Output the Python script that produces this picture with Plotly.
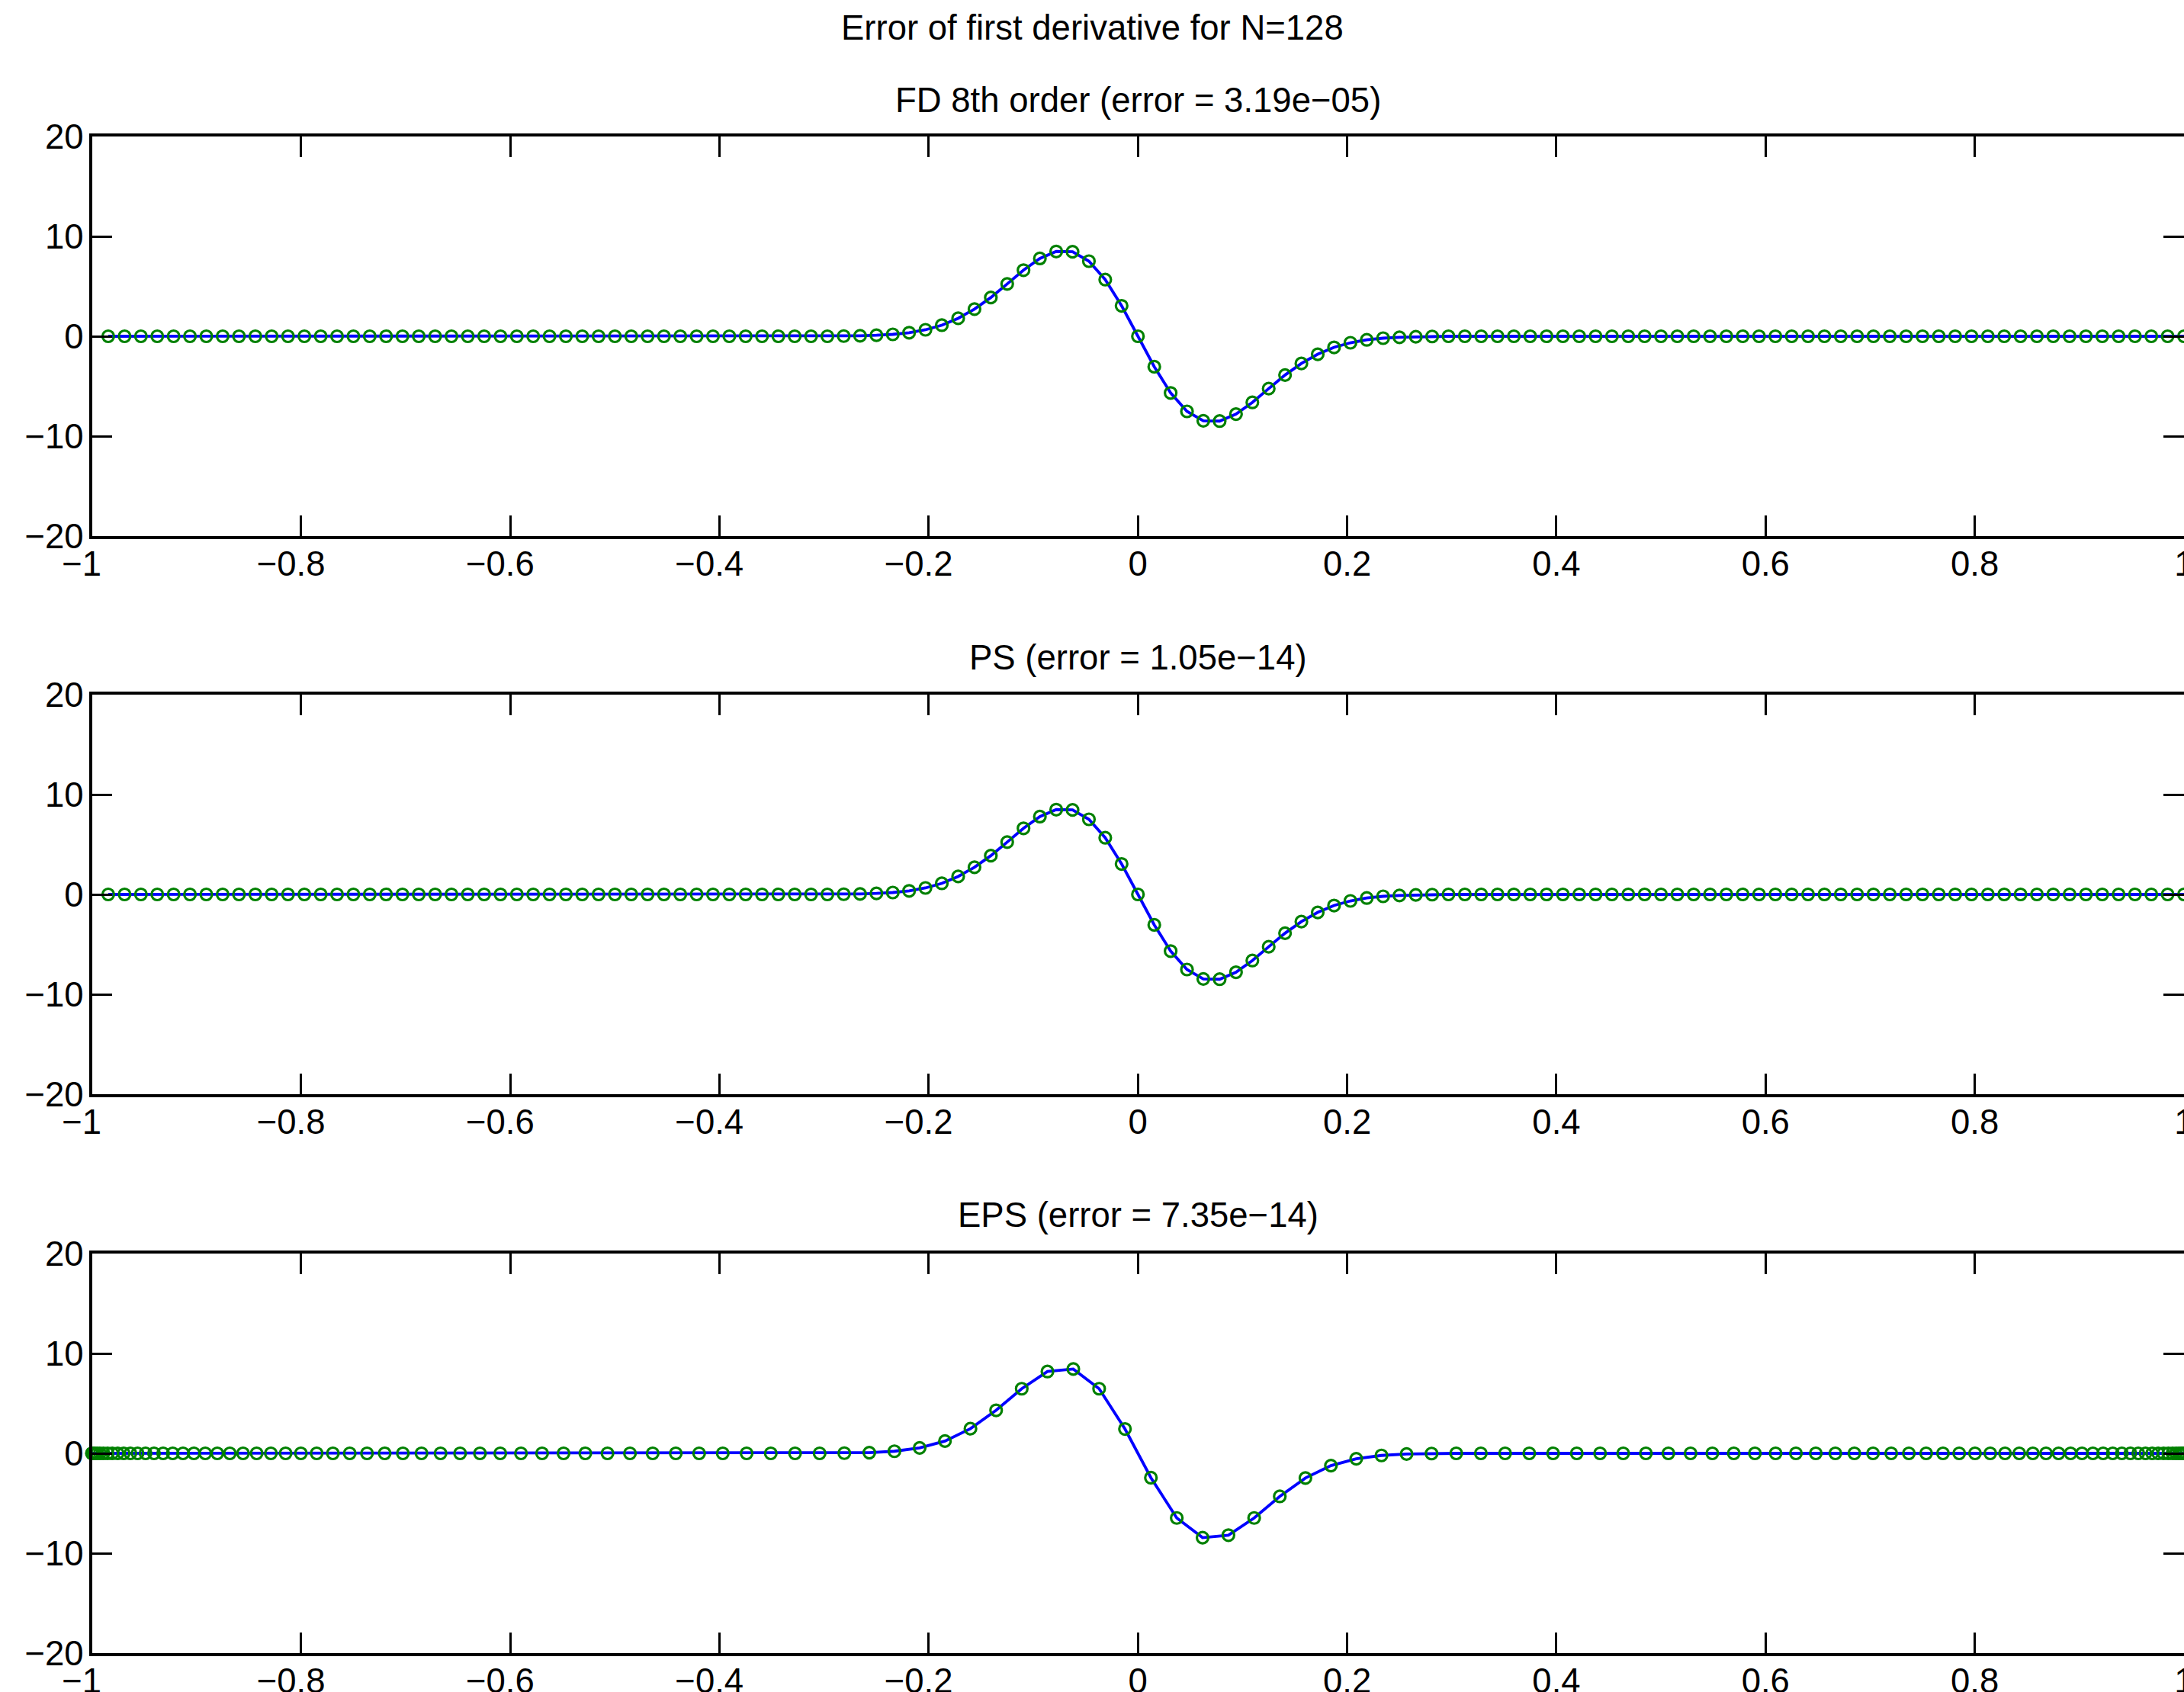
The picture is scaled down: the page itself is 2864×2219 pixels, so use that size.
import plotly.graph_objects as go

# ---------------------------------------------------------------------------
# Data
# ---------------------------------------------------------------------------
# Periodic (uniform) grid used by the FD and PS schemes, N = 128
x_uniform = [
    -0.984375, -0.96875, -0.953125, -0.9375, -0.921875, -0.90625, -0.890625, -0.875,
    -0.859375, -0.84375, -0.828125, -0.8125, -0.796875, -0.78125, -0.765625, -0.75,
    -0.734375, -0.71875, -0.703125, -0.6875, -0.671875, -0.65625, -0.640625, -0.625,
    -0.609375, -0.59375, -0.578125, -0.5625, -0.546875, -0.53125, -0.515625, -0.5,
    -0.484375, -0.46875, -0.453125, -0.4375, -0.421875, -0.40625, -0.390625, -0.375,
    -0.359375, -0.34375, -0.328125, -0.3125, -0.296875, -0.28125, -0.265625, -0.25,
    -0.234375, -0.21875, -0.203125, -0.1875, -0.171875, -0.15625, -0.140625, -0.125,
    -0.109375, -0.09375, -0.078125, -0.0625, -0.046875, -0.03125, -0.015625, 0.0,
    0.015625, 0.03125, 0.046875, 0.0625, 0.078125, 0.09375, 0.109375, 0.125,
    0.140625, 0.15625, 0.171875, 0.1875, 0.203125, 0.21875, 0.234375, 0.25,
    0.265625, 0.28125, 0.296875, 0.3125, 0.328125, 0.34375, 0.359375, 0.375,
    0.390625, 0.40625, 0.421875, 0.4375, 0.453125, 0.46875, 0.484375, 0.5,
    0.515625, 0.53125, 0.546875, 0.5625, 0.578125, 0.59375, 0.609375, 0.625,
    0.640625, 0.65625, 0.671875, 0.6875, 0.703125, 0.71875, 0.734375, 0.75,
    0.765625, 0.78125, 0.796875, 0.8125, 0.828125, 0.84375, 0.859375, 0.875,
    0.890625, 0.90625, 0.921875, 0.9375, 0.953125, 0.96875, 0.984375, 1.0,
]

# du/dx on the uniform grid (exact and numerical coincide at this scale)
dudx_uniform = [
    0, 0, 0, 0, 0, 0, 0, 0,
    0, 0, 0, 0, 0, 0, 0, 0,
    0, 0, 0, 0, 0, 0, 0, 0,
    0, 0, 0, 0, 0, 0, 0, 0,
    0, 0, 0, 0, 0, 0, 0, 0,
    0, 0, 0, 0, 0, 0.02, 0.05, 0.10,
    0.19, 0.36, 0.65, 1.11, 1.80, 2.72, 3.88, 5.24,
    6.62, 7.79, 8.49, 8.46, 7.52, 5.67, 3.05, 0.0,
    -3.05, -5.67, -7.52, -8.46, -8.49, -7.79, -6.62, -5.24,
    -3.88, -2.72, -1.80, -1.11, -0.65, -0.36, -0.19, -0.10,
    -0.05, -0.02, 0, 0, 0, 0, 0, 0,
    0, 0, 0, 0, 0, 0, 0, 0,
    0, 0, 0, 0, 0, 0, 0, 0,
    0, 0, 0, 0, 0, 0, 0, 0,
    0, 0, 0, 0, 0, 0, 0, 0,
    0, 0, 0, 0, 0, 0, 0, 0,
]

# Chebyshev–Gauss–Lobatto grid used by the EPS scheme
x_cheb = [
    -1.0000, -0.9997, -0.9988, -0.9972, -0.9951, -0.9924, -0.9890, -0.9850,
    -0.9805, -0.9753, -0.9696, -0.9632, -0.9563, -0.9487, -0.9406, -0.9319,
    -0.9227, -0.9129, -0.9025, -0.8916, -0.8801, -0.8681, -0.8555, -0.8425,
    -0.8289, -0.8148, -0.8002, -0.7851, -0.7696, -0.7535, -0.7370, -0.7201,
    -0.7027, -0.6849, -0.6667, -0.6480, -0.6290, -0.6096, -0.5898, -0.5696,
    -0.5491, -0.5283, -0.5071, -0.4856, -0.4639, -0.4418, -0.4195, -0.3969,
    -0.3741, -0.3510, -0.3278, -0.3043, -0.2807, -0.2568, -0.2328, -0.2087,
    -0.1845, -0.1601, -0.1356, -0.1111, -0.0865, -0.0618, -0.0371, -0.0124,
    0.0124, 0.0371, 0.0618, 0.0865, 0.1111, 0.1356, 0.1601, 0.1845,
    0.2087, 0.2328, 0.2568, 0.2807, 0.3043, 0.3278, 0.3510, 0.3741,
    0.3969, 0.4195, 0.4418, 0.4639, 0.4856, 0.5071, 0.5283, 0.5491,
    0.5696, 0.5898, 0.6096, 0.6290, 0.6480, 0.6667, 0.6849, 0.7027,
    0.7201, 0.7370, 0.7535, 0.7696, 0.7851, 0.8002, 0.8148, 0.8289,
    0.8425, 0.8555, 0.8681, 0.8801, 0.8916, 0.9025, 0.9129, 0.9227,
    0.9319, 0.9406, 0.9487, 0.9563, 0.9632, 0.9696, 0.9753, 0.9805,
    0.9850, 0.9890, 0.9924, 0.9951, 0.9972, 0.9988, 0.9997, 1.0000,
]

# du/dx on the Chebyshev grid
dudx_cheb = [
    0, 0, 0, 0, 0, 0, 0, 0,
    0, 0, 0, 0, 0, 0, 0, 0,
    0, 0, 0, 0, 0, 0, 0, 0,
    0, 0, 0, 0, 0, 0, 0, 0,
    0, 0, 0, 0, 0, 0, 0, 0,
    0, 0, 0, 0, 0, 0, 0, 0,
    0, 0, 0, 0, 0.02, 0.07, 0.21, 0.54,
    1.23, 2.47, 4.31, 6.47, 8.19, 8.44, 6.47, 2.44,
    -2.44, -6.47, -8.44, -8.19, -6.47, -4.31, -2.47, -1.23,
    -0.54, -0.21, -0.07, -0.02, 0, 0, 0, 0,
    0, 0, 0, 0, 0, 0, 0, 0,
    0, 0, 0, 0, 0, 0, 0, 0,
    0, 0, 0, 0, 0, 0, 0, 0,
    0, 0, 0, 0, 0, 0, 0, 0,
    0, 0, 0, 0, 0, 0, 0, 0,
    0, 0, 0, 0, 0, 0, 0, 0,
]

main_title = "Error of first derivative for N=128"
panel_titles = [
    "FD 8th order (error = 3.19e\u221205)",
    "PS (error = 1.05e\u221214)",
    "EPS (error = 7.35e\u221214)",
]

x_ticks = [-1, -0.8, -0.6, -0.4, -0.2, 0, 0.2, 0.4, 0.6, 0.8, 1]
x_tick_labels = ["\u22121", "\u22120.8", "\u22120.6", "\u22120.4", "\u22120.2",
                 "0", "0.2", "0.4", "0.6", "0.8", "1"]
y_ticks = [-20, -10, 0, 10, 20]
y_tick_labels = ["\u221220", "\u221210", "0", "10", "20"]

# ---------------------------------------------------------------------------
# Styling
# ---------------------------------------------------------------------------
W, H = 2864, 2219
FONT = "Liberation Sans, Arial, Helvetica, sans-serif"
FS = 45.5
BLUE = "#0000ff"
GREEN = "#008000"

x_left = 120.5 / W
# (top, bottom) of each axes box in pixels
boxes = [(179, 703), (911, 1435), (1644, 2168)]
title_y_px = [131.5, 862, 1593]

# negative x labels: the number part is centred on the tick, the minus hangs left
pad = '<span style="color:rgba(0,0,0,0)">\u2212</span>'
x_tick_text = [t + pad if t.startswith("\u2212") else t for t in x_tick_labels]

series = [
    (x_uniform, dudx_uniform, x_uniform, dudx_uniform),
    (x_uniform, dudx_uniform, x_uniform, dudx_uniform),
    (x_cheb, dudx_cheb, x_cheb, dudx_cheb),
]

fig = go.Figure()
for i, (xl, yl, xm, ym) in enumerate(series):
    suffix = "" if i == 0 else str(i + 1)
    fig.add_trace(go.Scatter(
        x=xl, y=yl, mode="lines",
        line=dict(color=BLUE, width=3.8),
        xaxis="x" + suffix, yaxis="y" + suffix, showlegend=False,
    ))
    fig.add_trace(go.Scatter(
        x=xm, y=ym, mode="markers",
        marker=dict(symbol="circle-open", size=15, color=GREEN,
                    line=dict(color=GREEN, width=3.2)),
        cliponaxis=False,
        xaxis="x" + suffix, yaxis="y" + suffix, showlegend=False,
    ))

layout = dict(
    width=W, height=H, autosize=False,
    margin=dict(l=0, r=0, t=0, b=0, pad=0),
    paper_bgcolor="white", plot_bgcolor="white",
    font=dict(family=FONT, size=FS, color="black"),
    showlegend=False,
)

annotations = [dict(
    text=main_title, x=0.5, y=1 - 36.5 / H, xref="paper", yref="paper",
    xanchor="center", yanchor="middle", showarrow=False,
    font=dict(family=FONT, size=FS, color="black"),
)]

for i, (top, bot) in enumerate(boxes):
    suffix = "" if i == 0 else str(i + 1)
    ydom = [1 - bot / H, 1 - top / H]
    axis_common = dict(
        ticks="inside", ticklen=27, tickwidth=3, tickcolor="black",
        showline=True, linewidth=3.5, linecolor="black", mirror="ticks",
        showgrid=False, zeroline=False, automargin=False,
        tickfont=dict(family=FONT, size=FS, color="black"),
    )
    layout["xaxis" + suffix] = dict(
        axis_common, domain=[x_left, 1.0], range=[-1, 1],
        tickmode="array", tickvals=x_ticks, ticktext=x_tick_text,
        ticklabelstandoff=-6, ticklabeloverflow="allow",
        anchor="y" + suffix,
    )
    layout["yaxis" + suffix] = dict(
        axis_common, domain=ydom, range=[-20, 20],
        tickmode="array", tickvals=y_ticks, ticktext=y_tick_labels,
        ticklabelstandoff=-2,
        anchor="x" + suffix,
    )
    annotations.append(dict(
        text=panel_titles[i], x=(x_left + 1.0) / 2, y=1 - title_y_px[i] / H,
        xref="paper", yref="paper", xanchor="center", yanchor="middle",
        showarrow=False, font=dict(family=FONT, size=FS, color="black"),
    ))

layout["annotations"] = annotations
fig.update_layout(**layout)

fig.write_html("out.html")
